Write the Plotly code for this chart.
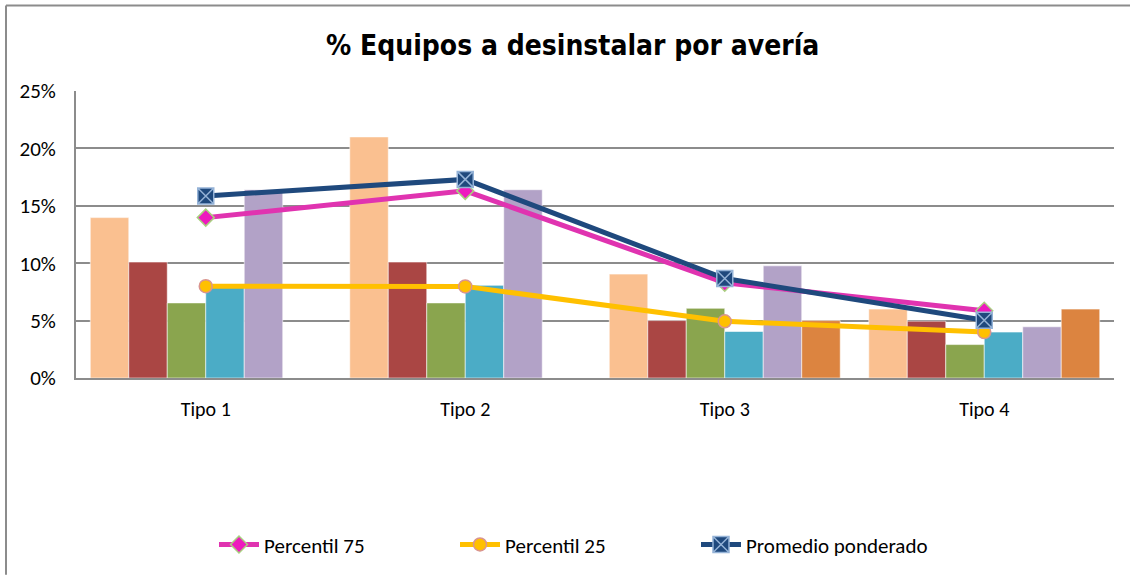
import plotly.graph_objects as go

categories = ["Tipo 1", "Tipo 2", "Tipo 3", "Tipo 4"]

bar_s1 = [0.1397, 0.210, 0.0905, 0.060]
bar_s2 = [0.101, 0.101, 0.050, 0.0495]
bar_s3 = [0.0654, 0.0654, 0.0607, 0.0291]
bar_s4 = [0.079, 0.0807, 0.0405, 0.040]
bar_s5 = [0.164, 0.164, 0.0977, 0.0446]
bar_s6 = [None, None, 0.050, 0.060]

percentil_75 = [0.1397, 0.163, 0.083, 0.0586]
percentil_25 = [0.080, 0.0798, 0.0494, 0.040]
promedio_ponderado = [0.1585, 0.173, 0.0867, 0.0503]

bar_series = [bar_s1, bar_s2, bar_s3, bar_s4, bar_s5, bar_s6]
bar_colors = ["#FAC090", "#AA4644", "#8AA54E", "#4BACC6", "#B2A2C7", "#DC8440"]

W, H = 1130, 578
L, R, T, B = 76, 16, 91, 198
pw, ph = W - L - R, H - T - B

def px_x(px):
    return (px - L) / pw

def px_y(py):
    return (H - B - py) / ph

fig = go.Figure()

for vals, col in zip(bar_series, bar_colors):
    fig.add_trace(go.Bar(
        x=categories, y=vals, marker=dict(color=col, line=dict(color="rgba(255,255,255,0.55)", width=1)),
        showlegend=False, hoverinfo="skip"))

fig.add_trace(go.Scatter(
    x=categories, y=percentil_75, name="Percentil 75", mode="lines+markers",
    line=dict(color="#E033B0", width=5),
    marker=dict(symbol="diamond", size=13, color="#EE1ABE", line=dict(color="#A9CF7F", width=1.5))))
fig.add_trace(go.Scatter(
    x=categories, y=percentil_25, name="Percentil 25", mode="lines+markers",
    line=dict(color="#FFC000", width=5),
    marker=dict(symbol="circle", size=13, color="#FFC000", line=dict(color="#D9948F", width=1.5))))
fig.add_trace(go.Scatter(
    x=categories, y=promedio_ponderado, name="Promedio ponderado", mode="lines+markers",
    line=dict(color="#1F497D", width=5),
    marker=dict(symbol="square-x", size=16, color="#1F497D", line=dict(color="#95B3D7", width=1.5))))

body_font = "Carlito, Calibri, Lato, 'Open Sans', sans-serif"

fig.update_layout(
    width=W, height=H,
    margin=dict(l=L, r=R, t=T, b=B, pad=0),
    paper_bgcolor="white", plot_bgcolor="white",
    barmode="group", bargap=0.11, bargroupgap=0,
    font=dict(family=body_font, size=20, color="#000000"),
    showlegend=True,
    legend=dict(orientation="h", x=px_x(214), xanchor="left", y=px_y(548), yanchor="middle",
                font=dict(family=body_font, size=21, color="#000000"),
                entrywidth=186, entrywidthmode="pixels", itemwidth=40,
                bgcolor="rgba(0,0,0,0)", traceorder="normal"),
    xaxis=dict(showgrid=False, showline=True, linecolor="#8C8C8C", linewidth=2,
               ticks="", ticklabelstandoff=12, tickfont=dict(size=20)),
    yaxis=dict(range=[0, 0.25], dtick=0.05, tickformat=".0%", showgrid=True,
               gridcolor="#8C8C8C", gridwidth=1.5, showline=True, linecolor="#8C8C8C",
               linewidth=2, zeroline=False, ticks="", ticklabelstandoff=14,
               tickfont=dict(size=21)),
    annotations=[dict(
        text="<b>% Equipos a desinstalar por avería</b>",
        x=px_x(572), y=px_y(45), xref="paper", yref="paper",
        xanchor="center", yanchor="middle", showarrow=False,
        font=dict(family="'DejaVu Sans Condensed', 'Liberation Sans Narrow', sans-serif",
                  size=28, color="#000000"))],
    shapes=[
        dict(type="line", xref="paper", yref="paper", x0=px_x(6), x1=px_x(1130), y0=px_y(5), y1=px_y(5),
             line=dict(color="#8C8C8C", width=2)),
        dict(type="line", xref="paper", yref="paper", x0=px_x(6), x1=px_x(6), y0=px_y(5), y1=px_y(578),
             line=dict(color="#8C8C8C", width=2)),
    ],
)

fig.write_html("out.html", config={"displayModeBar": False},
               post_script="document.body.style.margin='0';document.body.style.padding='0';")
